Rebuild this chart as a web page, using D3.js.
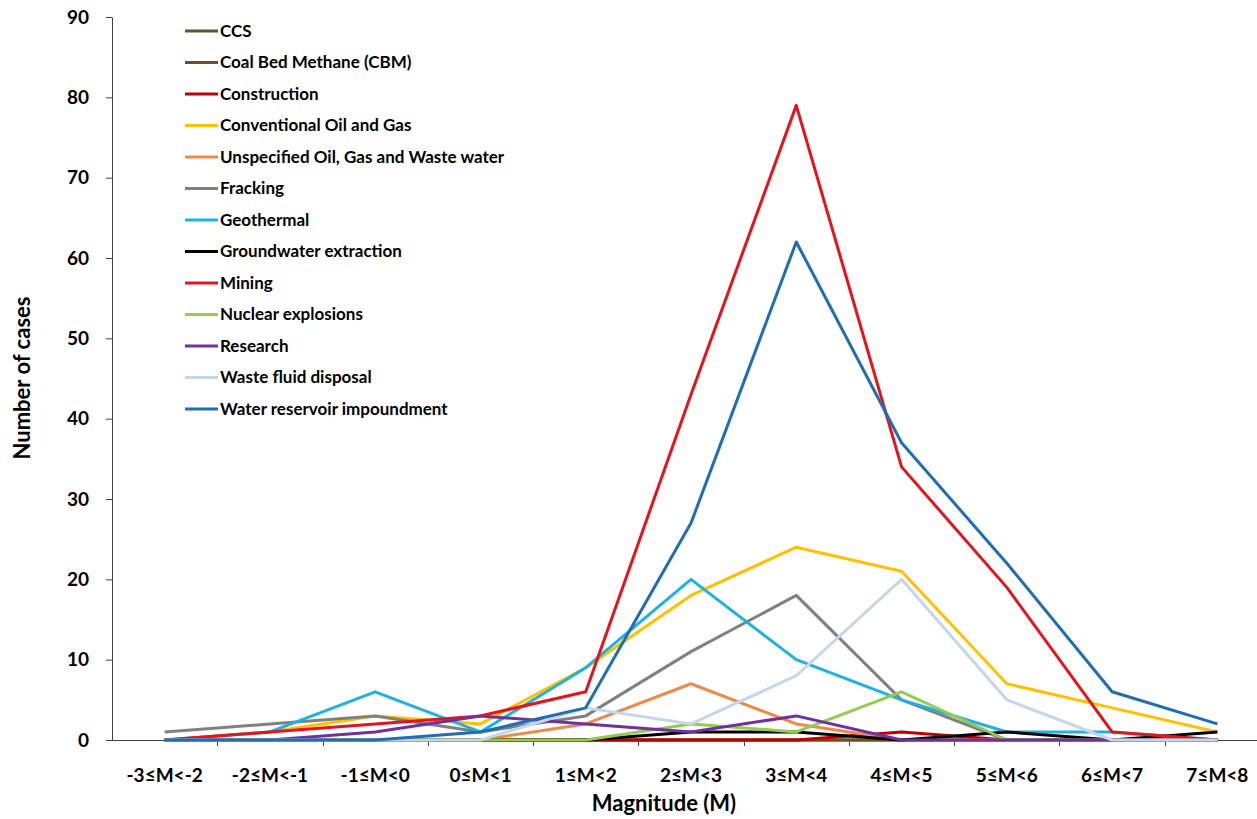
<!DOCTYPE html>
<html>
<head>
<meta charset="utf-8">
<script src="https://cdn.jsdelivr.net/npm/d3@7"></script>
<style>
  html, body { margin: 0; padding: 0; background: #fff; }
  svg { display: block; font-family: Lato, "Open Sans", sans-serif; font-weight: bold; }
</style>
</head>
<body>
<svg id="chart" width="1257" height="819"></svg>
<script>
// Magnitude classes (x axis)
const categories = ["-3≤M<-2", "-2≤M<-1", "-1≤M<0", "0≤M<1", "1≤M<2", "2≤M<3",
                    "3≤M<4", "4≤M<5", "5≤M<6", "6≤M<7", "7≤M<8"];

// Number of cases per magnitude class, one array per source type
const ccs            = [0, 0, 0, 0, 0, 0, 0, 0, 0, 0, 0];
const cbm            = [0, 0, 0, 0, 0, 0, 0, 0, 0, 0, 0];
const construction   = [0, 0, 0, 0, 0, 0, 0, 1, 0, 0, 0];
const conventional   = [0, 1, 3, 2, 9, 18, 24, 21, 7, 4, 1];
const unspecified    = [0, 0, 0, 0, 2, 7, 2, 0, 0, 0, 0];
const fracking       = [1, 2, 3, 1, 3, 11, 18, 5, 0, 0, 0];
const geothermal     = [0, 1, 6, 1, 9, 20, 10, 5, 1, 1, 0];
const groundwater    = [0, 0, 0, 0, 0, 1, 1, 0, 1, 0, 1];
const mining         = [0, 1, 2, 3, 6, 43, 79, 34, 19, 1, 0];
const nuclear        = [0, 0, 0, 0, 0, 2, 1, 6, 0, 0, 0];
const research       = [0, 0, 1, 3, 2, 1, 3, 0, 0, 0, 0];
const wasteDisposal  = [0, 0, 0, 0, 4, 2, 8, 20, 5, 0, 0];
const reservoir      = [0, 0, 0, 1, 4, 27, 62, 37, 22, 6, 2];

const seriesNames = ["CCS", "Coal Bed Methane (CBM)", "Construction", "Conventional Oil and Gas",
  "Unspecified Oil, Gas and Waste water", "Fracking", "Geothermal", "Groundwater extraction",
  "Mining", "Nuclear explosions", "Research", "Waste fluid disposal", "Water reservoir impoundment"];
const seriesValues = [ccs, cbm, construction, conventional, unspecified, fracking, geothermal,
  groundwater, mining, nuclear, research, wasteDisposal, reservoir];
const seriesColors = ["#4a5e2c", "#7a4a22", "#c00000", "#ffc000", "#ed8a4a", "#808080", "#1eb2e0",
  "#000000", "#e8121c", "#92cc50", "#7030a0", "#c4d7ea", "#1f6eb3"];

const yTicks = [0, 10, 20, 30, 40, 50, 60, 70, 80, 90];

const svg = d3.select("#chart");
const margin = { left: 112, top: 17, bottom: 740, right: 1270 };

const x = d3.scaleBand().domain(categories).range([margin.left, margin.right]);
const y = d3.scaleLinear().domain([0, 90]).range([margin.bottom, margin.top]);
const cx = c => x(c) + x.bandwidth() / 2;

// Y axis
const yAxis = svg.append("g")
  .attr("transform", `translate(${margin.left},0)`)
  .call(d3.axisLeft(y).tickValues(yTicks).tickSize(6).tickPadding(17).tickSizeOuter(0));
yAxis.select(".domain").attr("stroke", "#404040");
yAxis.selectAll(".tick line").attr("stroke", "#404040");
yAxis.selectAll(".tick text")
  .attr("font-family", "Lato, sans-serif").attr("font-weight", "bold")
  .attr("font-size", 19).attr("fill", "#000");

// X axis: labels centred in each class, ticks on class boundaries
const xAxis = svg.append("g")
  .attr("transform", `translate(0,${margin.bottom})`)
  .call(d3.axisBottom(x).tickSize(0).tickPadding(29).tickSizeOuter(0));
xAxis.select(".domain").attr("stroke", "#404040");
xAxis.selectAll(".tick text")
  .attr("font-family", "Lato, sans-serif").attr("font-weight", "bold")
  .attr("font-size", 19).attr("fill", "#000");
xAxis.selectAll(".boundary")
  .data(categories.slice(1))
  .join("line")
  .attr("class", "boundary")
  .attr("x1", d => Math.round(x(d)) + 0.5).attr("x2", d => Math.round(x(d)) + 0.5)
  .attr("y1", 0).attr("y2", 6)
  .attr("stroke", "#404040");

// Axis titles
svg.append("text")
  .attr("x", 664).attr("y", 811)
  .attr("text-anchor", "middle")
  .attr("font-size", 22)
  .text("Magnitude  (M)");
svg.append("text")
  .attr("transform", "translate(30,378) rotate(-90)")
  .attr("text-anchor", "middle")
  .attr("font-size", 22)
  .text("Number of cases");

// Series lines
const line = d3.line()
  .x((d, i) => cx(categories[i]))
  .y(d => y(d));

svg.append("g")
  .selectAll("path")
  .data(seriesValues)
  .join("path")
  .attr("d", d => line(d))
  .attr("fill", "none")
  .attr("stroke", (d, i) => seriesColors[i])
  .attr("stroke-width", 3)
  .attr("stroke-linejoin", "round");

// Legend
const legend = svg.append("g").attr("transform", "translate(185,31)");
const rowH = 31.5;
const items = legend.selectAll("g")
  .data(seriesNames)
  .join("g")
  .attr("transform", (d, i) => `translate(0,${i * rowH})`);
items.append("line")
  .attr("x1", 0).attr("x2", 33).attr("y1", 0).attr("y2", 0)
  .attr("stroke", (d, i) => seriesColors[i])
  .attr("stroke-width", 3);
items.append("text")
  .attr("x", 35).attr("y", 0).attr("dy", "0.35em")
  .attr("font-size", 17)
  .text(d => d);
</script>
</body>
</html>
